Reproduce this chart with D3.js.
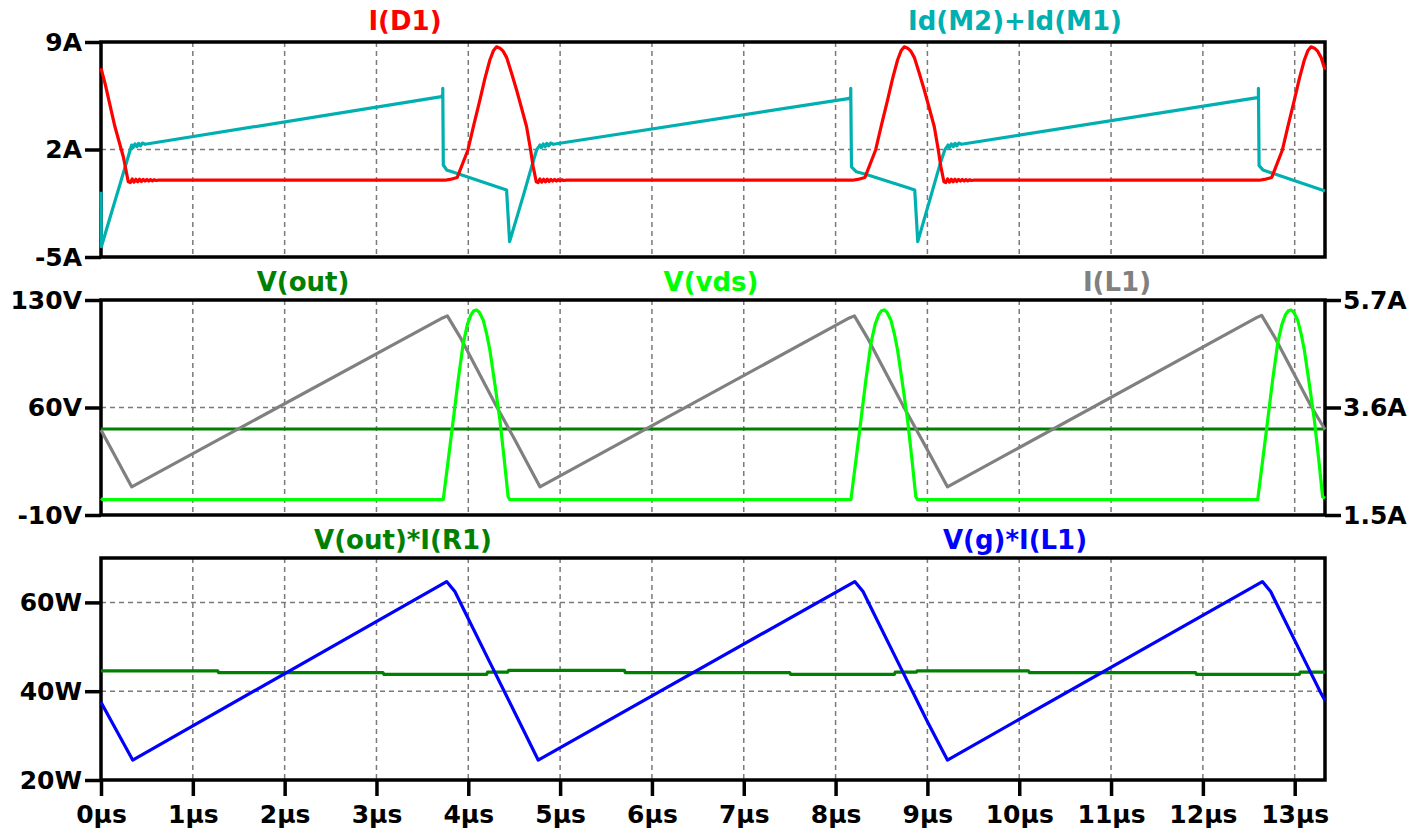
<!DOCTYPE html>
<html>
<head>
<meta charset="utf-8">
<script src="https://cdn.jsdelivr.net/npm/d3@7"></script>
<style>
  html, body { margin: 0; padding: 0; background: #fff; }
  svg text { font-family: 'DejaVu Sans', sans-serif; font-weight: bold; }
</style>
</head>
<body>
<svg id="chart" width="1414" height="833"></svg>
<script>
// ---------------- DATA ----------------
const xTicks = [0,1,2,3,4,5,6,7,8,9,10,11,12,13];
const xTickLabels = ['0µs','1µs','2µs','3µs','4µs','5µs','6µs','7µs','8µs','9µs','10µs','11µs','12µs','13µs'];
const xDomain = [0, 13.33];

const topTicks = [9, 2, -5];
const topTickLabels = ['9A', '2A', '-5A'];
const midLeftTicks = [130, 60, -10];
const midLeftTickLabels = ['130V', '60V', '-10V'];
const midRightTicks = [5.7, 3.6, 1.5];
const midRightTickLabels = ['5.7A', '3.6A', '1.5A'];
const botTicks = [60, 40, 20];
const botTickLabels = ['60W', '40W', '20W'];
const botDomain = [20, 70];

const seriesNames = ['I(D1)', 'Id(M2)+Id(M1)', 'V(out)', 'V(vds)', 'I(L1)', 'V(out)*I(R1)', 'V(g)*I(L1)'];

// I(D1) [µs, A]
const iD1 = [
 [0,7.29],[0.044,6.31],[0.152,3.48],[0.243,1.53],[0.297,-0.1],[0.32,-0.15],[0.34,0.08],[0.36,-0.12],[0.38,0.06],[0.40,-0.1],[0.42,0.06],[0.44,-0.08],[0.46,0.05],[0.48,-0.06],[0.50,0.05],[0.52,-0.05],[0.54,0.04],[0.56,-0.04],[0.58,0.03],[0.60,-0.02],[0.62,0],
 [3.745,0],[3.80,0.05],[3.88,0.18],[3.996,1.97],[4.06,3.6],[4.126,5.22],[4.18,6.6],[4.235,7.83],[4.275,8.45],[4.308,8.69],[4.345,8.6],[4.38,8.4],[4.417,8.0],[4.47,7.0],[4.526,5.87],[4.58,4.7],[4.635,3.48],[4.675,2.1],[4.707,0.87],[4.74,-0.1],[4.76,-0.15],[4.78,0.08],[4.80,-0.12],[4.82,0.06],[4.84,-0.1],[4.86,0.06],[4.88,-0.08],[4.90,0.05],[4.92,-0.06],[4.94,0.05],[4.96,-0.05],[4.98,0.04],[5.00,-0.04],[5.02,0.03],[5.04,-0.02],[5.06,0],
 [8.185,0],[8.24,0.05],[8.32,0.18],[8.436,1.97],[8.50,3.6],[8.566,5.22],[8.62,6.6],[8.675,7.83],[8.715,8.45],[8.748,8.69],[8.785,8.6],[8.82,8.4],[8.857,8.0],[8.91,7.0],[8.966,5.87],[9.02,4.7],[9.075,3.48],[9.115,2.1],[9.147,0.87],[9.18,-0.1],[9.20,-0.15],[9.22,0.08],[9.24,-0.12],[9.26,0.06],[9.28,-0.1],[9.30,0.06],[9.32,-0.08],[9.34,0.05],[9.36,-0.06],[9.38,0.05],[9.40,-0.05],[9.42,0.04],[9.44,-0.04],[9.46,0.03],[9.48,-0.02],[9.50,0],
 [12.615,0],[12.67,0.05],[12.75,0.18],[12.866,1.97],[12.93,3.6],[12.996,5.22],[13.05,6.6],[13.105,7.83],[13.145,8.45],[13.178,8.69],[13.215,8.6],[13.25,8.4],[13.287,8.0],[13.33,7.2]
];

// Id(M2)+Id(M1) [µs, A]
const idM = [
 [0,-0.75],[0.004,-4.33],[0.10,-2.4],[0.20,-0.4],[0.31,1.8],[0.334,2.29],[0.35,2.12],[0.37,2.36],[0.39,2.18],[0.41,2.4],[0.43,2.24],[0.45,2.42],[0.48,2.34],
 [3.709,5.44],[3.722,5.6],[3.722,5.99],[3.728,0.99],[3.764,0.67],[3.873,0.45],[4.344,-0.49],[4.417,-0.64],[4.45,-4.0],[4.60,-0.99],[4.70,1.1],[4.744,1.97],[4.78,2.29],[4.796,2.12],[4.816,2.36],[4.836,2.18],[4.856,2.4],[4.876,2.24],[4.896,2.42],[4.926,2.34],
 [8.155,5.33],[8.165,5.5],[8.165,5.99],[8.173,0.87],[8.227,0.55],[8.318,0.4],[8.789,-0.49],[8.862,-0.64],[8.895,-4.0],[9.04,-0.99],[9.14,1.1],[9.189,1.97],[9.225,2.29],[9.241,2.12],[9.261,2.36],[9.281,2.18],[9.301,2.4],[9.321,2.24],[9.341,2.42],[9.371,2.34],
 [12.595,5.38],[12.605,5.5],[12.605,5.99],[12.612,0.95],[12.654,0.67],[12.76,0.45],[13.33,-0.7]
];

// V(out) [µs, V]
const vOut = [[0,46],[13.33,46]];

// V(vds) [µs, V]
const vVds = [
 [0,0.8],[0.02,0],[3.727,0],[3.78,25],[3.836,51.9],[3.89,78],[3.945,101.8],[3.99,114],[4.03,120.5],[4.06,123],[4.09,123.5],[4.12,122],[4.162,117],[4.20,108],[4.235,97.4],[4.29,75],[4.344,51.9],[4.39,27],[4.434,1.9],[4.453,0],
 [8.167,0],[8.22,25],[8.276,51.9],[8.33,78],[8.385,101.8],[8.43,114],[8.47,120.5],[8.50,123],[8.53,123.5],[8.56,122],[8.602,117],[8.64,108],[8.675,97.4],[8.73,75],[8.784,51.9],[8.83,27],[8.874,1.9],[8.893,0],
 [12.597,0],[12.65,25],[12.706,51.9],[12.76,78],[12.815,101.8],[12.86,114],[12.90,120.5],[12.93,123],[12.96,123.5],[12.99,122],[13.032,117],[13.07,108],[13.105,97.4],[13.16,75],[13.214,51.9],[13.26,27],[13.304,1.9],[13.33,0.8]
];

// I(L1) [µs, A] (right axis)
const iL1 = [
 [0,3.16],[0.334,2.05],[3.72,5.35],[3.772,5.39],[3.909,4.98],[4.308,3.62],[4.507,2.97],[4.78,2.05],
 [8.15,5.35],[8.205,5.39],[8.34,4.98],[8.74,3.62],[8.94,2.97],[9.218,2.05],
 [12.59,5.36],[12.64,5.40],[12.78,4.98],[13.18,3.62],[13.33,3.17]
];

// V(out)*I(R1) [µs, W]
const pOut = [
 [0,44.6],[1.27,44.6],[1.28,44.2],[3.07,44.2],[3.08,43.8],[4.2,43.8],[4.21,44.3],[4.43,44.3],[4.44,44.7],[5.7,44.7],[5.71,44.2],[7.5,44.2],[7.51,43.8],[8.64,43.8],[8.65,44.3],[8.88,44.3],[8.89,44.6],[10.1,44.6],[10.11,44.2],[11.92,44.2],[11.93,43.8],[13.05,43.8],[13.06,44.3],[13.33,44.3]
];

// V(g)*I(L1) [µs, W]
const pIn = [
 [0,37.5],[0.345,24.5],[3.764,64.7],[3.854,62.44],[3.981,57.1],[4.235,46.5],[4.398,39.7],[4.561,32.9],[4.761,24.5],
 [8.209,64.7],[8.299,62.44],[8.426,57.1],[8.68,46.5],[8.843,39.7],[9.006,32.9],[9.218,24.5],
 [12.648,64.7],[12.738,62.44],[12.865,57.1],[13.119,46.5],[13.282,39.7],[13.33,37.9]
];

// ---------------- LAYOUT ----------------
const svg = d3.select('#chart');
const X0 = 101, X1 = 1325;
const x = d3.scaleLinear().domain(xDomain).range([X0, X1]);

const panels = {
  top: {y0: 42, y1: 257},
  mid: {y0: 300, y1: 515},
  bot: {y0: 558, y1: 780}
};

const yTop = d3.scaleLinear().domain([-5, 9]).range([panels.top.y1, panels.top.y0]);
const yMidL = d3.scaleLinear().domain([-10, 130]).range([panels.mid.y1, panels.mid.y0]);
const yMidR = d3.scaleLinear().domain([1.5, 5.7]).range([panels.mid.y1, panels.mid.y0]);
const yBot = d3.scaleLinear().domain(botDomain).range([panels.bot.y1, panels.bot.y0]);

const FS = 25;
const TFS = 26;
const gridColor = '#7a7a7a';

function grid(p, yScale, hVals) {
  const g = svg.append('g');
  xTicks.filter(t => t > 0).forEach(t => {
    g.append('line').attr('x1', x(t)).attr('x2', x(t)).attr('y1', p.y0).attr('y2', p.y1)
      .attr('stroke', gridColor).attr('stroke-width', 1.5).attr('stroke-dasharray', '5,4');
  });
  hVals.forEach(v => {
    g.append('line').attr('x1', X0).attr('x2', X1).attr('y1', yScale(v)).attr('y2', yScale(v))
      .attr('stroke', gridColor).attr('stroke-width', 1.5).attr('stroke-dasharray', '5,4');
  });
}

function frame(p) {
  svg.append('rect').attr('x', X0).attr('y', p.y0).attr('width', X1 - X0).attr('height', p.y1 - p.y0)
    .attr('fill', 'none').attr('stroke', '#000').attr('stroke-width', 3.5);
}

function styleAxis(g) {
  g.select('.domain').remove();
  g.selectAll('.tick line').attr('stroke', '#000').attr('stroke-width', 3.5);
  g.selectAll('.tick text').attr('fill', '#000').style('font-size', FS + 'px')
    .style('font-family', "'DejaVu Sans', sans-serif").style('font-weight', 'bold');
}

function leftAxis(yScale, vals, labels) {
  const ax = d3.axisLeft(yScale).tickValues(vals).tickSize(16).tickPadding(3)
    .tickFormat((d, i) => labels[i]);
  const g = svg.append('g').attr('transform', `translate(${X0},0)`).call(ax);
  styleAxis(g);
}

function rightAxis(yScale, vals, labels) {
  const ax = d3.axisRight(yScale).tickValues(vals).tickSize(16).tickPadding(2)
    .tickFormat((d, i) => labels[i]);
  const g = svg.append('g').attr('transform', `translate(${X1},0)`).call(ax);
  styleAxis(g);
}

function trace(data, yScale, color) {
  const line = d3.line().x(d => x(d[0])).y(d => yScale(d[1]));
  svg.append('path').datum(data).attr('d', line).attr('fill', 'none')
    .attr('stroke', color).attr('stroke-width', 3.2).attr('stroke-linejoin', 'round');
}

function title(txt, cx, y, color) {
  svg.append('text').attr('x', cx).attr('y', y).attr('text-anchor', 'middle')
    .attr('fill', color).style('font-size', TFS + 'px').text(txt);
}

// ---- top panel
grid(panels.top, yTop, [2]);
frame(panels.top);
leftAxis(yTop, topTicks, topTickLabels);
trace(idM, yTop, '#00b0b0');
trace(iD1, yTop, '#ff0000');
title(seriesNames[0], 405, 30, '#ff0000');
title(seriesNames[1], 1015, 30, '#00b0b0');

// ---- middle panel
grid(panels.mid, yMidL, [60]);
frame(panels.mid);
leftAxis(yMidL, midLeftTicks, midLeftTickLabels);
rightAxis(yMidR, midRightTicks, midRightTickLabels);
trace(vOut, yMidL, '#008000');
trace(iL1, yMidR, '#808080');
trace(vVds, yMidL, '#00ff00');
title(seriesNames[2], 303, 291, '#008000');
title(seriesNames[3], 711, 291, '#00ff00');
title(seriesNames[4], 1117, 291, '#808080');

// ---- bottom panel
grid(panels.bot, yBot, [60, 40]);
frame(panels.bot);
leftAxis(yBot, botTicks, botTickLabels);
const axB = d3.axisBottom(x).tickValues(xTicks).tickSize(16).tickPadding(9)
  .tickFormat((d, i) => xTickLabels[i]);
const gB = svg.append('g').attr('transform', `translate(0,${panels.bot.y1})`).call(axB);
styleAxis(gB);
trace(pOut, yBot, '#008000');
trace(pIn, yBot, '#0000ff');
title(seriesNames[5], 403, 549, '#008000');
title(seriesNames[6], 1015, 549, '#0000ff');
</script>
</body>
</html>
